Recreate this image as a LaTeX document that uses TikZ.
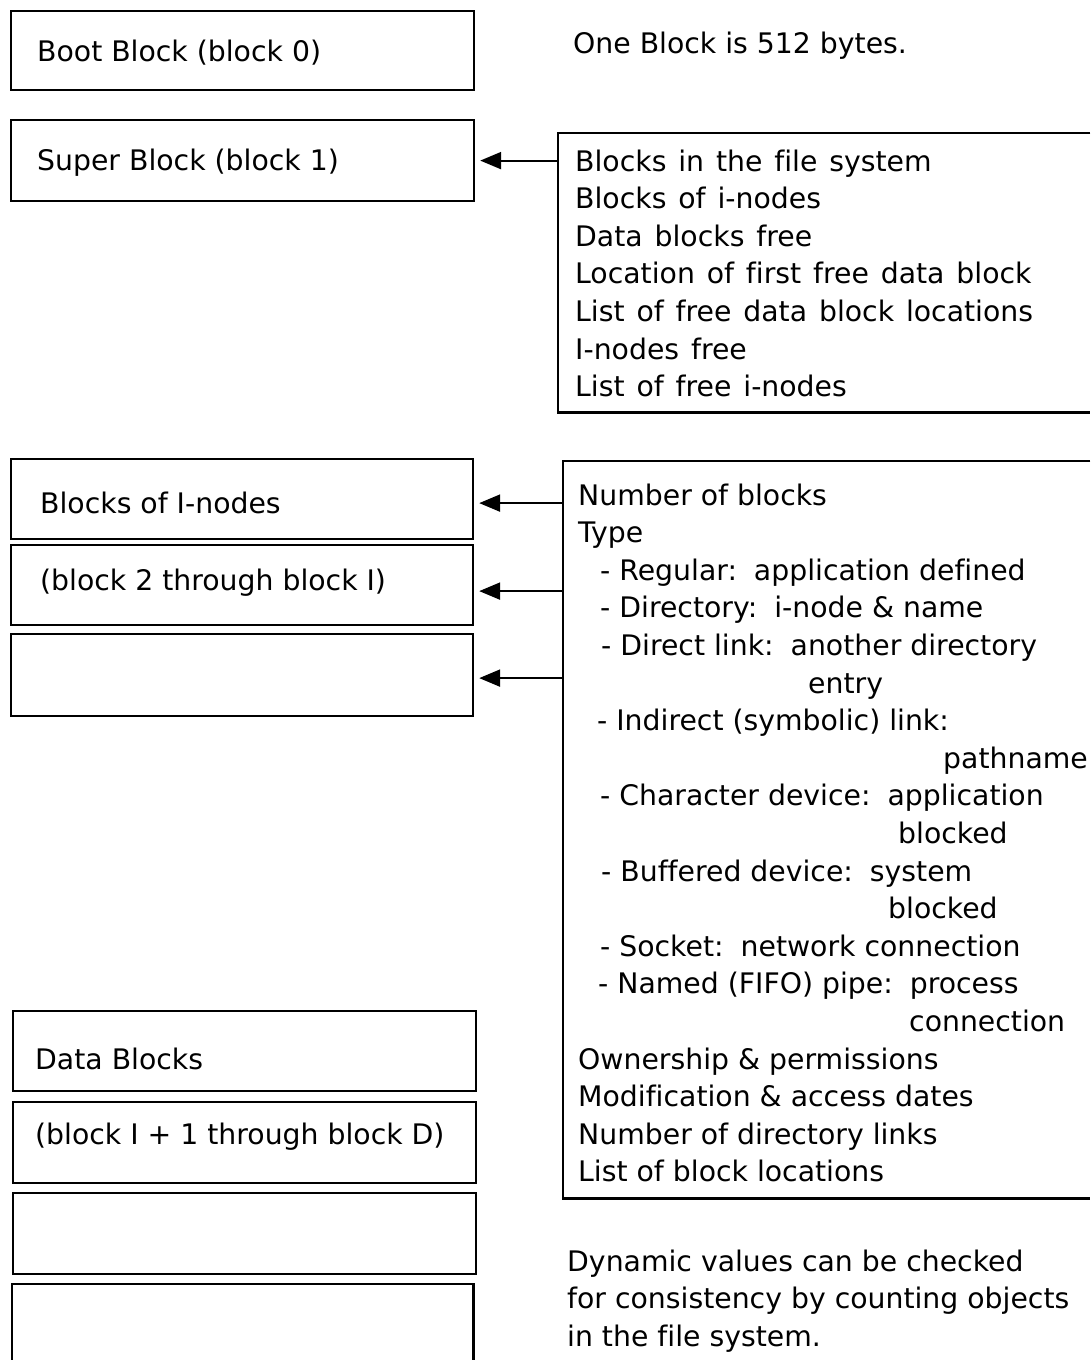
\documentclass[tikz,border=0pt]{standalone}
\usepackage{fontspec}
\setmainfont[Ligatures=NoCommon]{DejaVu Sans}
\usetikzlibrary{arrows.meta}
\newcommand\widespacing{\spaceskip=0.42em\relax}
\begin{document}
\begin{tikzpicture}[x=1pt,y=-1pt,
  box/.style={draw, line width=2.2pt, inner sep=0pt, anchor=north west},
  openbox/.style={draw=none, inner sep=0pt, anchor=north west},
  edge/.style={line width=2.2pt},
  txt/.style={anchor=base west, inner sep=0pt, font=\fontsize{28.3}{34}\selectfont},
  wtxt/.style={txt, execute at begin node=\widespacing},
  arr/.style={line width=2.2pt, -{Triangle[length=21pt,width=17pt]}, shorten >=5pt}]
\useasboundingbox[fill=white] (0,0) rectangle (1090,1360);

% left column boxes
\node[box, minimum width=463pt, minimum height=79pt] (boot) at (10,10) {};
\node[box, minimum width=463pt, minimum height=81pt] (super) at (10,119) {};
\node[box, minimum width=462pt, minimum height=80pt] (ib1) at (10,458) {};
\node[box, minimum width=462pt, minimum height=80pt] (ib2) at (10,544) {};
\node[box, minimum width=462pt, minimum height=82pt] (ib3) at (10,633) {};
\node[box, minimum width=463pt, minimum height=80pt] (db1) at (12,1010) {};
\node[box, minimum width=463pt, minimum height=81pt] (db2) at (12,1101) {};
\node[box, minimum width=463pt, minimum height=81pt] (db3) at (12,1192) {};
\node[openbox, minimum width=461pt, minimum height=80pt] (db4) at (12,1284) {};
\draw[edge] (db4.south west) -- (db4.north west) -- (db4.north east) -- (db4.south east);

% left texts
\node[txt] (tboot) at (37,61) {Boot Block (block 0)};
\node[txt] (tsuper) at (37,170) {Super Block (block 1)};
\node[txt] (tib1) at (40,513) {Blocks of I-nodes};
\node[txt] (tib2) at (40,590) {(block 2 through block I)};
\node[txt] (tdb1) at (35,1069) {Data Blocks};
\node[txt] (tdb2) at (35,1144) {(block I + 1 through block D)};

% top note
\node[txt] (note) at (573,53) {One Block is 512 bytes.};

% super block info box
\node[openbox, minimum width=532pt, minimum height=279pt] (sbinfo) at (558,133) {};
\draw[edge] (sbinfo.north east) -- (sbinfo.north west) -- (sbinfo.south west) -- (sbinfo.south east);
\node[wtxt] (s1) at (575,171) {Blocks in the file system};
\node[wtxt] (s2) at (575,208.6) {Blocks of i-nodes};
\node[wtxt] (s3) at (575,246.2) {Data blocks free};
\node[wtxt] (s4) at (575,283.8) {Location of first free data block};
\node[wtxt] (s5) at (575,321.4) {List of free data block locations};
\node[wtxt] (s6) at (575,359) {I-nodes free};
\node[wtxt] (s7) at (575,396.6) {List of free i-nodes};

% i-node info box
\node[openbox, minimum width=527pt, minimum height=737pt] (ininfo) at (563,461) {};
\draw[edge] (ininfo.north east) -- (ininfo.north west) -- (ininfo.south west) -- (ininfo.south east);
\node[txt] (i0) at (578,505) {Number of blocks};
\node[txt] (i1) at (578,542.6) {Type};
\node[txt] (i2) at (600,580.2) {- Regular:\hspace{0.6em}application defined};
\node[txt] (i3) at (600,617.8) {- Directory:\hspace{0.6em}i-node \& name};
\node[txt] (i4) at (601,655.4) {- Direct link:\hspace{0.6em}another directory};
\node[txt] (i5) at (808,693) {entry};
\node[txt] (i6) at (597,730.6) {- Indirect (symbolic) link:};
\node[txt] (i7) at (943,768.2) {pathname};
\node[txt] (i8) at (600,805.8) {- Character device:\hspace{0.6em}application};
\node[txt] (i9) at (898,843.4) {blocked};
\node[txt] (i10) at (601,881) {- Buffered device:\hspace{0.6em}system};
\node[txt] (i11) at (888,918.6) {blocked};
\node[txt] (i12) at (600,956.2) {- Socket:\hspace{0.6em}network connection};
\node[txt] (i13) at (598,993.8) {- Named (FIFO) pipe:\hspace{0.6em}process};
\node[txt] (i14) at (909,1031.4) {connection};
\node[txt] (i15) at (578,1069) {Ownership \& permissions};
\node[txt] (i16) at (578,1106.6) {Modification \& access dates};
\node[txt] (i17) at (578,1144.2) {Number of directory links};
\node[txt] (i18) at (578,1181.8) {List of block locations};

% bottom note
\node[txt] (d1) at (567,1271) {Dynamic values can be checked};
\node[txt] (d2) at (567,1308.5) {for consistency by counting objects};
\node[txt] (d3) at (567,1346) {in the file system.};

% arrows
\draw[arr] (super.east -| sbinfo.west) -- (super.east);
\draw[arr] ([yshift=-4pt]ib1.east -| ininfo.west) -- ([yshift=-4pt]ib1.east);
\draw[arr] ([yshift=-6pt]ib2.east -| ininfo.west) -- ([yshift=-6pt]ib2.east);
\draw[arr] ([yshift=-3pt]ib3.east -| ininfo.west) -- ([yshift=-3pt]ib3.east);
\end{tikzpicture}
\end{document}
